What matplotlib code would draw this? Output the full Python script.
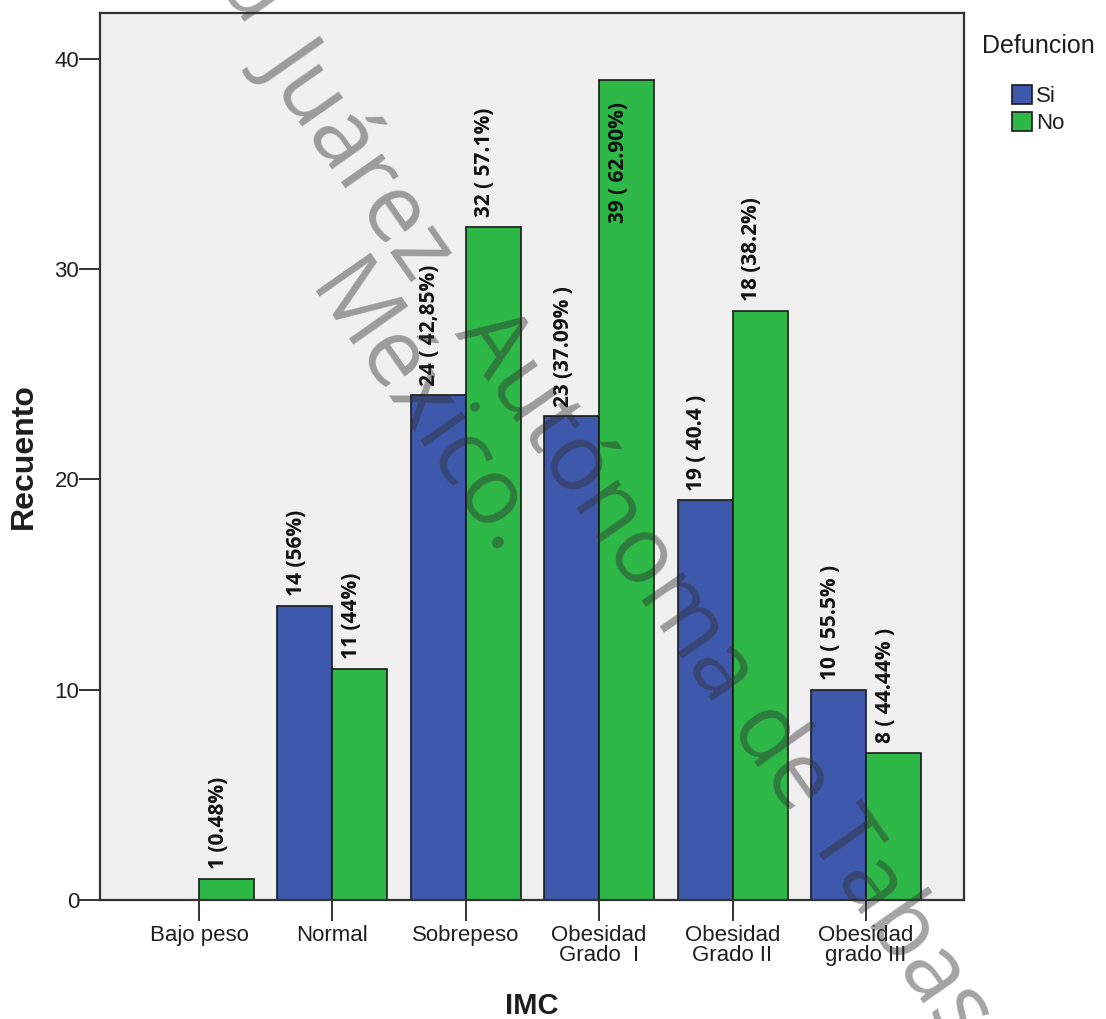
import numpy as np
import matplotlib
matplotlib.use("Agg")
import matplotlib.pyplot as plt
from matplotlib.patches import Patch

categories = ["Bajo peso", "Normal", "Sobrepeso", "Obesidad\nGrado  I", "Obesidad\nGrado II", "Obesidad\ngrado III"]
si_values = [0, 14, 24, 23, 19, 10]
no_values = [1, 11, 32, 39, 28, 7]
si_labels = [None, "14 (56%)", "24 ( 42,85%)", "23 (37.09% )", "19 ( 40.4 )", "10 ( 55.5% )"]
no_labels = ["1 (0.48%)", "11 (44%)", "32 ( 57.1%)", "39 ( 62.90%)", "18 (38.2%)", "8 ( 44.44% )"]
series_names = ["Si", "No"]
legend_title = "Defuncion"
yticks = [0, 10, 20, 30, 40]

C_SI = "#3e58ac"
C_NO = "#2eb848"
BG = "#f0f0f0"
TXT = "#1e1e1e"

W, H = 1106, 1019
fig = plt.figure(figsize=(W / 100, H / 100), dpi=100)
L, R, T, B = 100, 964, 13, 900
ax = fig.add_axes([L / W, 1 - B / H, (R - L) / W, (B - T) / H])
ax.set_facecolor(BG)

x = np.arange(len(categories))
bw = 0.412
ax.bar(x - bw / 2, si_values, bw, color=C_SI, edgecolor="#1a1a1a", linewidth=1.2, zorder=2)
ax.bar(x + bw / 2, no_values, bw, color=C_NO, edgecolor="#1a1a1a", linewidth=1.2, zorder=2)

ax.set_xlim(-0.742, 5.735)
ax.set_ylim(0, 42.18)
ax.set_yticks(yticks)
ax.set_xticks(x)
ax.set_xticklabels(categories, fontsize=16, family="Liberation Sans", color=TXT, linespacing=0.92)
for lab in ax.get_yticklabels():
    lab.set_fontsize(16)
    lab.set_family("Liberation Sans")
    lab.set_color(TXT)
ax.tick_params(axis="y", length=15, width=1.4, color="#333333", pad=0)
ax.tick_params(axis="x", length=15, width=1.4, color="#333333", pad=3)
for s in ax.spines.values():
    s.set_color("#333333")
    s.set_linewidth(1.6)

ax.set_ylabel("Recuento", fontsize=23, fontweight="bold", family="Liberation Sans", color=TXT)
ax.yaxis.set_label_coords((39 - L) / (R - L), 0.5)
ax.set_xlabel("IMC", fontsize=21, fontweight="bold", family="Liberation Sans", color=TXT)
ax.xaxis.set_label_coords(0.5, -(992 - B) / (B - T))

lab_kw = dict(rotation=90, fontsize=15, fontweight="bold", family="Open Sans",
              textcoords="offset points", ha="center", color="#111111")
for i in range(len(categories)):
    if si_labels[i]:
        ax.annotate(si_labels[i], (x[i] - bw / 2, si_values[i]), xytext=(-6, 7), va="bottom", **lab_kw)
    if no_labels[i]:
        if no_values[i] > 35:
            ax.annotate(no_labels[i], (x[i] + bw / 2, no_values[i]), xytext=(-6, -16), va="top", **lab_kw)
        else:
            ax.annotate(no_labels[i], (x[i] + bw / 2, no_values[i]), xytext=(-6, 7), va="bottom", **lab_kw)

# legend
fig.text(982 / W, 1 - 46 / H, legend_title, fontsize=18, family="Liberation Sans", va="center", ha="left", color=TXT)
handles = [Patch(facecolor=C_SI, edgecolor="#1a1a1a", linewidth=1.2),
           Patch(facecolor=C_NO, edgecolor="#1a1a1a", linewidth=1.2)]
fig.legend(handles, series_names, loc="upper left", bbox_to_anchor=(1012 / W, 1 - 85 / H),
           frameon=False, handlelength=0.92, handleheight=0.92, handletextpad=0.15,
           labelspacing=0.22, borderpad=0, borderaxespad=0, labelcolor=TXT,
           prop={"family": "Liberation Sans", "size": 16})

# watermark
ang = -55
d = np.array([np.cos(np.radians(55)), np.sin(np.radians(55))])
def px(p):
    return (p[0] / 100, (H - p[1]) / 100)
wm_kw = dict(rotation=ang, rotation_mode="anchor", va="baseline", fontsize=67,
             family="Open Sans", color="#2f2f2f", alpha=0.44, transform=fig.dpi_scale_trans)
p1 = np.array([262.0, 60.0])
fig.text(*px(p1 - 30 * d), "Universidad", ha="right", **wm_kw)
fig.text(*px(p1), "Juárez", ha="left", **wm_kw)
fig.text(*px(p1 + 334 * d), "Autónoma de Tabasco.", ha="left", **wm_kw)
p2 = np.array([310.0, 297.0]) - 8 * d
fig.text(*px(p2), "México.", ha="left", **wm_kw)

fig.savefig("out.png", dpi=100)
